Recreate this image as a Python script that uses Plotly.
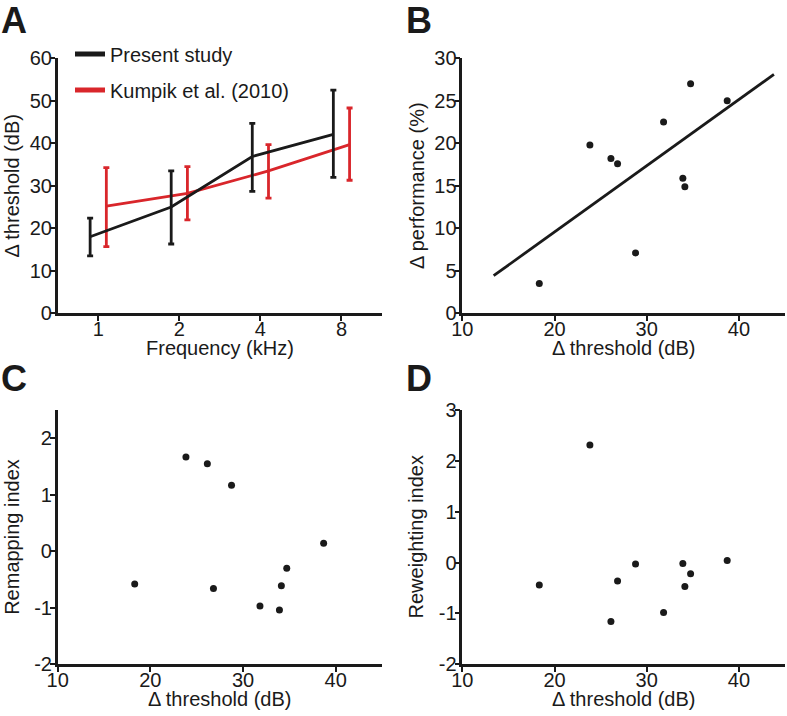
import numpy as np
import plotly.graph_objects as go

# ---------------- data ----------------
freq_khz = [1, 2, 4, 8]
present_mean = [18.0, 25.0, 36.9, 42.1]
present_hi = [22.4, 33.5, 44.7, 52.5]
present_lo = [13.5, 16.3, 28.7, 32.0]
kumpik_mean = [25.2, 28.2, 33.5, 39.7]
kumpik_hi = [34.3, 34.5, 39.7, 48.3]
kumpik_lo = [15.7, 22.0, 27.1, 31.3]

delta_threshold = [18.35, 23.84, 26.12, 26.84, 28.79, 31.83, 33.92, 34.14, 34.76, 38.73]
delta_performance = [3.5, 19.8, 18.2, 17.6, 7.1, 22.5, 15.9, 14.9, 27.0, 25.0]
remap_threshold = [18.31, 23.84, 26.15, 26.81, 28.76, 31.83, 33.93, 34.14, 34.72, 38.70]
remapping_index = [-0.58, 1.67, 1.55, -0.66, 1.17, -0.97, -1.04, -0.61, -0.30, 0.14]
reweighting_index = [-0.44, 2.31, -1.16, -0.36, -0.03, -0.98, -0.02, -0.47, -0.22, 0.04]
reweight_threshold = [18.35, 23.84, 26.12, 26.84, 28.79, 31.83, 33.92, 34.14, 34.76, 38.73]
fit_x_span = [13.4, 43.8]

series_names = ["Present study", "Kumpik et al. (2010)"]
x_titles = ["Frequency (kHz)", "Δ threshold (dB)", "Δ threshold (dB)", "Δ threshold (dB)"]
y_titles = ["Δ threshold (dB)", "Δ performance (%)", "Remapping index", "Reweighting index"]
panel_letters = ["A", "B", "C", "D"]
# --------------------------------------

BLACK = "#1a1a1a"
RED = "#d9262b"
FONT = "Liberation Sans, Arial, sans-serif"
FS = 20
W, H = 787, 716

def px2x(p):
    return p / W

def px2y(p):
    return 1 - p / H

def tick_text(vals):
    return [str(v) for v in vals]  # plain hyphen for negatives

dodge = 0.1  # octaves
fx_present = [f * 2 ** (-dodge) for f in freq_khz]
fx_kumpik = [f * 2 ** (dodge) for f in freq_khz]

fig = go.Figure()

def err(mean, hi, lo, color):
    return dict(type="data", symmetric=False,
                array=[h - m for h, m in zip(hi, mean)],
                arrayminus=[m - l for m, l in zip(mean, lo)],
                thickness=2.8, width=3, color=color)

fig.add_trace(go.Scatter(x=fx_kumpik, y=kumpik_mean, mode="lines",
                         line=dict(color=RED, width=2.8),
                         error_y=err(kumpik_mean, kumpik_hi, kumpik_lo, RED),
                         xaxis="x", yaxis="y", showlegend=False))
fig.add_trace(go.Scatter(x=fx_present, y=present_mean, mode="lines",
                         line=dict(color=BLACK, width=2.8),
                         error_y=err(present_mean, present_hi, present_lo, BLACK),
                         xaxis="x", yaxis="y", showlegend=False))

# legend entries
fig.add_trace(go.Scatter(x=[None], y=[None], mode="lines", name=series_names[0],
                         line=dict(color=BLACK, width=5), xaxis="x", yaxis="y",
                         legend="legend"))
fig.add_trace(go.Scatter(x=[None], y=[None], mode="lines", name=series_names[1],
                         line=dict(color=RED, width=5), xaxis="x", yaxis="y",
                         legend="legend2"))

# B
fig.add_trace(go.Scatter(x=delta_threshold, y=delta_performance, mode="markers",
                         marker=dict(color=BLACK, size=7), xaxis="x2", yaxis="y2",
                         showlegend=False))
slope, intercept = np.polyfit(delta_threshold, delta_performance, 1)
fit_y = [slope * v + intercept for v in fit_x_span]
fig.add_trace(go.Scatter(x=fit_x_span, y=fit_y, mode="lines",
                         line=dict(color=BLACK, width=2.8), xaxis="x2", yaxis="y2",
                         showlegend=False))
# C
fig.add_trace(go.Scatter(x=remap_threshold, y=remapping_index, mode="markers",
                         marker=dict(color=BLACK, size=7), xaxis="x3", yaxis="y3",
                         showlegend=False))
# D
fig.add_trace(go.Scatter(x=reweight_threshold, y=reweighting_index, mode="markers",
                         marker=dict(color=BLACK, size=7), xaxis="x4", yaxis="y4",
                         showlegend=False))

axis_common = dict(showline=True, linewidth=2.5, linecolor=BLACK, ticks="outside",
                   ticklen=5, tickwidth=2, tickcolor=BLACK, showgrid=False,
                   zeroline=False, tickfont=dict(family=FONT, size=FS, color=BLACK),
                   automargin=False, fixedrange=True)
xaxis_common = dict(**axis_common, ticklabelstandoff=-9)
yaxis_common = dict(**axis_common, ticklabelstandoff=-6)

left_px = (57.7, 382.0)
right_px = (462.3, 785.0)
top_px = (58.3, 313.3)
bot_px = (410.0, 664.3)

left_dom = [px2x(left_px[0]), px2x(left_px[1])]
right_dom = [px2x(right_px[0]), px2x(right_px[1])]
top_dom = [px2y(top_px[1]), px2y(top_px[0])]
bot_dom = [px2y(bot_px[1]), px2y(bot_px[0])]

xt = [10, 20, 30, 40]
fig.update_layout(
    width=W, height=H, autosize=False,
    margin=dict(l=0, r=0, t=0, b=0),
    paper_bgcolor="white", plot_bgcolor="white",
    font=dict(family=FONT, color=BLACK),
    xaxis=dict(**xaxis_common, type="log", domain=left_dom, anchor="y",
               range=[np.log10(2 ** -0.5), np.log10(2 ** 3.5)],
               tickvals=freq_khz, ticktext=tick_text(freq_khz)),
    yaxis=dict(**yaxis_common, domain=top_dom, anchor="x", range=[0, 60],
               tickvals=[0, 10, 20, 30, 40, 50, 60],
               ticktext=tick_text([0, 10, 20, 30, 40, 50, 60])),
    xaxis2=dict(**xaxis_common, domain=right_dom, anchor="y2", range=[10, 45],
                tickvals=xt, ticktext=tick_text(xt)),
    yaxis2=dict(**yaxis_common, domain=top_dom, anchor="x2", range=[0, 30],
                tickvals=[0, 5, 10, 15, 20, 25, 30],
                ticktext=tick_text([0, 5, 10, 15, 20, 25, 30])),
    xaxis3=dict(**xaxis_common, domain=left_dom, anchor="y3", range=[10, 45],
                tickvals=xt, ticktext=tick_text(xt)),
    yaxis3=dict(**yaxis_common, domain=bot_dom, anchor="x3", range=[-2, 2.5],
                tickvals=[-2, -1, 0, 1, 2], ticktext=tick_text([-2, -1, 0, 1, 2])),
    xaxis4=dict(**xaxis_common, domain=right_dom, anchor="y4", range=[10, 45],
                tickvals=xt, ticktext=tick_text(xt)),
    yaxis4=dict(**yaxis_common, domain=bot_dom, anchor="x4", range=[-2, 3],
                tickvals=[-2, -1, 0, 1, 2, 3], ticktext=tick_text([-2, -1, 0, 1, 2, 3])),
    legend=dict(x=px2x(70), y=px2y(54), xanchor="left", yanchor="middle",
                bgcolor="rgba(0,0,0,0)", font=dict(family=FONT, size=FS, color=BLACK)),
    legend2=dict(x=px2x(70), y=px2y(90), xanchor="left", yanchor="middle",
                 bgcolor="rgba(0,0,0,0)", font=dict(family=FONT, size=FS, color=BLACK)),
)

# axis titles (placed as text next to each axis)
panels = [(left_px, top_px), (right_px, top_px), (left_px, bot_px), (right_px, bot_px)]
for (xp, yp), xt_, yt_ in zip(panels, x_titles, y_titles):
    xc = (xp[0] + xp[1]) / 2
    fig.add_annotation(text=xt_, x=px2x(xc), y=px2y(yp[1] + 35), xref="paper", yref="paper",
                       xanchor="center", yanchor="middle", showarrow=False,
                       font=dict(family=FONT, size=FS, color=BLACK))
    yc = (yp[0] + yp[1]) / 2
    fig.add_annotation(text=yt_, x=px2x(xp[0] - 46), y=px2y(yc), xref="paper", yref="paper",
                       xanchor="center", yanchor="middle", showarrow=False, textangle=-90,
                       font=dict(family=FONT, size=FS, color=BLACK))

for letter, xp, yp in zip(panel_letters, [-1, 404, -1, 404], [-2, -2, 356, 356]):
    fig.add_annotation(text=f"<b>{letter}</b>", x=px2x(xp), y=px2y(yp), xref="paper",
                       yref="paper", xanchor="left", yanchor="top", showarrow=False,
                       font=dict(family=FONT, size=36, color=BLACK))

fig.write_html("out.html", post_script="document.body.style.margin='0';",
               config={"displayModeBar": False})
